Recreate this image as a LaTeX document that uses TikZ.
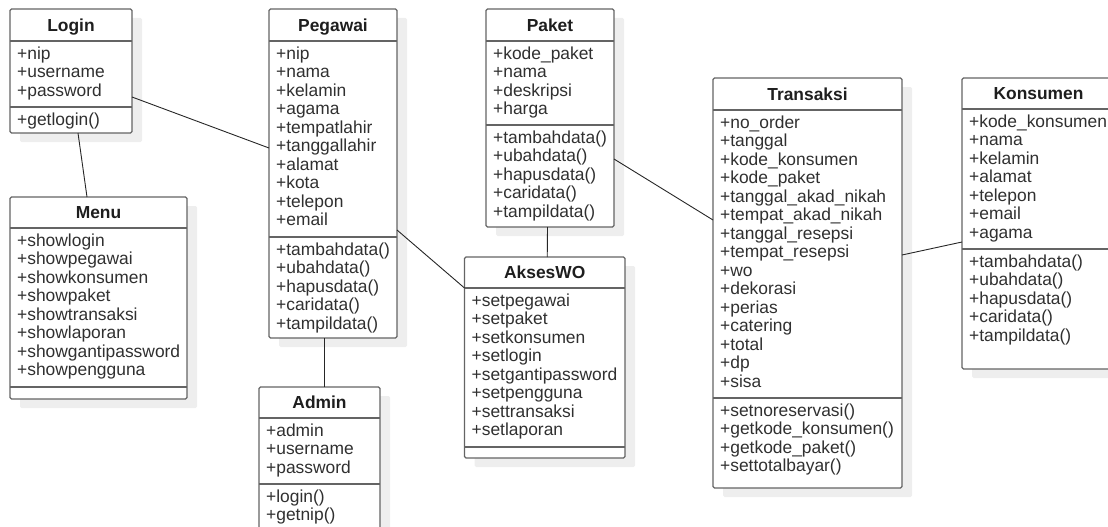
\documentclass[tikz,border=0pt]{standalone}
\usepackage{fontspec}
\setmainfont{Liberation Sans}
\usetikzlibrary{fit}

\definecolor{shadowgray}{RGB}{238,238,238}
\definecolor{framegray}{RGB}{100,100,100}
\definecolor{membergray}{RGB}{48,48,48}
\definecolor{titlegray}{RGB}{30,30,30}

\tikzset{
  shadowfill/.style={fill=shadowgray, rounded corners=1.5pt},
  classframe/.style={draw=framegray, fill=white, line width=1.2pt, rounded corners=1.5pt, inner sep=0pt, outer sep=0pt},
  classline/.style={draw=framegray, line width=1.2pt},
  titletext/.style={font=\fontsize{17.4}{18.5}\selectfont\bfseries, text=titlegray, inner sep=0pt},
  membertext/.style={font=\fontsize{17.4}{18.5}\selectfont, text=membergray, anchor=north west, align=left, inner sep=0pt},
  conn/.style={draw=black!85, line width=0.9pt}
}

% first line of a compartment: fixed height above the baseline
\newcommand\firstln{\rule{0pt}{14pt}}

% class frame: name, left, top, right, bottom, header bottom, separator
\newcommand\umlbox[7]{%
  \fill[shadowfill] (#2+10,#3+9) rectangle (#4+10,#5+9);
  \node[classframe, fit={(#2,#3) (#4,#5)}] (#1) {};
  \draw[classline] (#2,#6) -- (#4,#6);
  \draw[classline] (#2,#7) -- (#4,#7);
  \def\bxL{#2}\def\bxR{#4}\def\bxH{#6}\def\bxS{#7}%
}
% title and attributes of the last frame
\newcommand\umlhead[3]{%
  \node[titletext, anchor=base] (#1-title) at ({(\bxL+\bxR)/2}, \bxH-9.5) {#2};
  \node[membertext] (#1-attrs) at (\bxL+7, \bxH+4) {\firstln#3};
}
% operations of the last frame
\newcommand\umlops[2]{%
  \node[membertext] (#1-ops) at (\bxL+7, \bxS+4) {\firstln#2};
}

\begin{document}
\begin{tikzpicture}[x=1pt, y=-1pt]
\useasboundingbox (0,0) rectangle (1108,527);
\clip (0,0) rectangle (1108,527);

% Login
\umlbox{login}{10}{9}{132}{133}{41}{107}
\umlhead{login}{Login}{+nip\\+username\\+password}
\umlops{login}{+getlogin()}

% Menu
\umlbox{menu}{10}{197}{187}{399}{228}{387}
\umlhead{menu}{Menu}{+showlogin\\+showpegawai\\+showkonsumen\\+showpaket\\+showtransaksi\\+showlaporan\\+showgantipassword\\+showpengguna}

% Pegawai
\umlbox{pegawai}{269}{9}{397}{338}{41}{237}
\umlhead{pegawai}{Pegawai}{+nip\\+nama\\+kelamin\\+agama\\+tempatlahir\\+tanggallahir\\+alamat\\+kota\\+telepon\\+email}
\umlops{pegawai}{+tambahdata()\\+ubahdata()\\+hapusdata()\\+caridata()\\+tampildata()}

% Admin
\umlbox{admin}{259}{387}{380}{545}{418}{484}
\umlhead{admin}{Admin}{+admin\\+username\\+password}
\umlops{admin}{+login()\\+getnip()}

% Paket
\umlbox{paket}{486}{9}{614}{227}{41}{125}
\umlhead{paket}{Paket}{+kode\_paket\\+nama\\+deskripsi\\+harga}
\umlops{paket}{+tambahdata()\\+ubahdata()\\+hapusdata()\\+caridata()\\+tampildata()}

% AksesWO
\umlbox{akses}{464.5}{257}{625}{458}{288}{447}
\umlhead{akses}{AksesWO}{+setpegawai\\+setpaket\\+setkonsumen\\+setlogin\\+setgantipassword\\+setpengguna\\+settransaksi\\+setlaporan}

% Transaksi
\umlbox{transaksi}{713}{78}{902}{488}{110}{398}
\umlhead{transaksi}{Transaksi}{+no\_order\\+tanggal\\+kode\_konsumen\\+kode\_paket\\+tanggal\_akad\_nikah\\+tempat\_akad\_nikah\\+tanggal\_resepsi\\+tempat\_resepsi\\+wo\\+dekorasi\\+perias\\+catering\\+total\\+dp\\+sisa}
\umlops{transaksi}{+setnoreservasi()\\+getkode\_konsumen()\\+getkode\_paket()\\+settotalbayar()}

% Konsumen
\umlbox{konsumen}{962}{78}{1115}{369}{109}{249}
\umlhead{konsumen}{Konsumen}{+kode\_konsumen\\+nama\\+kelamin\\+alamat\\+telepon\\+email\\+agama}
\umlops{konsumen}{+tambahdata()\\+ubahdata()\\+hapusdata()\\+caridata()\\+tampildata()}

% associations
\draw[conn] ([yshift=-88pt]login.north east) -- ([yshift=-139pt]pegawai.north west);
\draw[conn] ([xshift=7pt]login.south) -- ([xshift=-11.5pt]menu.north);
\draw[conn] ([xshift=-9pt]pegawai.south) -- ([xshift=4.5pt]admin.north);
\draw[conn] ([yshift=-221pt]pegawai.north east) -- ([yshift=-31pt]akses.north west);
\draw[conn] ([xshift=-2.5pt]paket.south) -- ([xshift=2.5pt]akses.north);
\draw[conn] ([yshift=-150pt]paket.north east) -- ([yshift=-142pt]transaksi.north west);
\draw[conn] ([yshift=-177pt]transaksi.north east) -- ([yshift=-164pt]konsumen.north west);
\end{tikzpicture}
\end{document}
